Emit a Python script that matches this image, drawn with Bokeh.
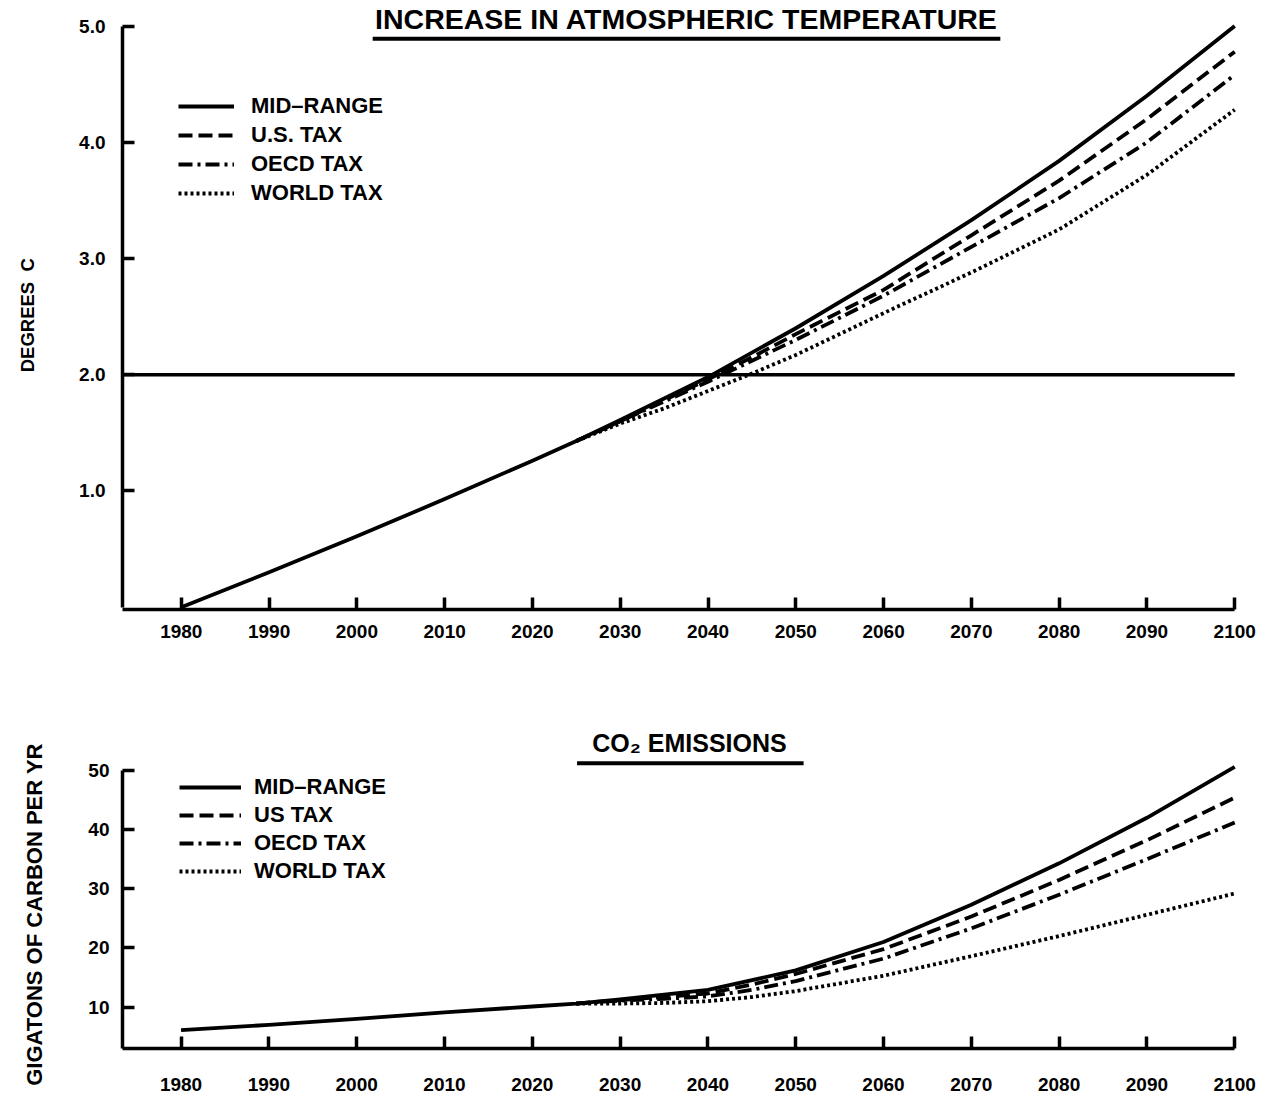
from bokeh.plotting import figure
from bokeh.models import Legend, LegendItem, Range1d, FixedTicker, Label
from bokeh.layouts import column
from bokeh.embed import file_html
from bokeh.resources import INLINE

# ---------------- data ----------------
years_mid = [1980, 1990, 2000, 2010, 2020, 2025, 2030, 2040, 2050, 2060, 2070, 2080, 2090, 2100]
years_tax = [2025, 2030, 2035, 2040, 2045, 2050, 2060, 2070, 2080, 2090, 2100]

temp_mid = [0.0, 0.30, 0.61, 0.93, 1.26, 1.43, 1.61, 1.98, 2.40, 2.85, 3.33, 3.84, 4.40, 5.00]
temp_us = [1.43, 1.60, 1.78, 1.96, 2.15, 2.35, 2.73, 3.20, 3.67, 4.20, 4.78]
temp_oecd = [1.43, 1.60, 1.77, 1.94, 2.12, 2.30, 2.68, 3.10, 3.52, 4.00, 4.58]
temp_world = [1.43, 1.58, 1.71, 1.86, 2.01, 2.17, 2.53, 2.88, 3.25, 3.72, 4.28]
temp_threshold = 2.0

co2_mid = [6.1, 7.0, 8.0, 9.1, 10.1, 10.6, 11.3, 12.9, 16.2, 21.0, 27.3, 34.3, 42.0, 50.6]
co2_us = [10.6, 11.2, 11.7, 12.3, 13.8, 15.6, 19.8, 25.3, 31.5, 38.2, 45.4]
co2_oecd = [10.6, 11.1, 11.4, 11.8, 12.9, 14.4, 18.2, 23.3, 29.0, 35.0, 41.2]
co2_world = [10.6, 10.6, 10.7, 11.0, 11.7, 12.7, 15.3, 18.6, 22.0, 25.6, 29.2]

x_ticks = [1980, 1990, 2000, 2010, 2020, 2030, 2040, 2050, 2060, 2070, 2080, 2090, 2100]
temp_ticks = [1, 2, 3, 4, 5]
temp_tick_labels = {1: "1.0", 2: "2.0", 3: "3.0", 4: "4.0", 5: "5.0"}
co2_ticks = [10, 20, 30, 40, 50]

labels_top = ["MID\u2013RANGE", "U.S. TAX", "OECD TAX", "WORLD TAX"]
labels_bot = ["MID\u2013RANGE", "US TAX", "OECD TAX", "WORLD TAX"]

title_top = "INCREASE IN ATMOSPHERIC TEMPERATURE"
title_bot = "CO\u2082 EMISSIONS"
ylabel_top = "DEGREES\u00a0\u00a0C" + "\u00a0" * 4
ylabel_bot = "GIGATONS OF CARBON PER YR" + "\u00a0" * 9

FONT = "Liberation Sans"
LW = 3.8
styles = [dict(line_dash="solid"), dict(line_dash="14 6"), dict(line_dash="14 5 3 5"), dict(line_dash="3 3")]


def base_fig(height, bl, br, bt, bb, xr, yr, ybounds, yticks, ylabel, ylabel_size, xstand, ystand, lstand):
    p = figure(width=1265, height=height, output_backend="svg", toolbar_location=None,
               x_range=Range1d(*xr), y_range=Range1d(*yr),
               min_border_left=bl, min_border_right=br, min_border_top=bt, min_border_bottom=bb)
    p.outline_line_color = None
    p.grid.visible = False
    p.background_fill_color = "white"
    p.border_fill_color = "white"
    for ax, ticks, stand in ((p.xaxis[0], x_ticks, xstand), (p.yaxis[0], yticks, ystand)):
        ax.ticker = FixedTicker(ticks=ticks)
        ax.axis_line_width = 3.5
        ax.axis_line_color = "black"
        ax.major_tick_in = 12
        ax.major_tick_out = 0
        ax.major_tick_line_width = 3.5
        ax.minor_tick_line_color = None
        ax.major_label_text_font = FONT
        ax.major_label_text_font_style = "bold"
        ax.major_label_text_font_size = "19px"
        ax.major_label_text_color = "black"
        ax.major_label_standoff = stand
    p.xaxis[0].bounds = (xr[0], x_ticks[-1])
    p.yaxis[0].bounds = ybounds
    p.yaxis[0].axis_label = ylabel
    p.yaxis[0].axis_label_text_font = FONT
    p.yaxis[0].axis_label_text_font_style = "bold"
    p.yaxis[0].axis_label_text_font_size = ylabel_size
    p.yaxis[0].axis_label_text_color = "black"
    p.yaxis[0].axis_label_standoff = lstand
    return p


def add_series(p, mid, us, oecd, world, labels, loc, glyph_w, spacing, standoff):
    rs = []
    for xs, ys, st in ((years_mid, mid, styles[0]), (years_tax, us, styles[1]),
                       (years_tax, oecd, styles[2]), (years_tax, world, styles[3])):
        rs.append(p.line(xs, ys, line_color="black", line_width=LW, line_join="round", **st))
    leg = Legend(items=[LegendItem(label=l, renderers=[r]) for l, r in zip(labels, rs)],
                 location=loc, orientation="vertical", padding=0, margin=0, spacing=spacing,
                 glyph_width=glyph_w, glyph_height=20, label_height=20, label_standoff=standoff,
                 label_text_font=FONT, label_text_font_style="bold", label_text_font_size="22px",
                 label_text_color="black", border_line_color=None, background_fill_alpha=0)
    p.add_layout(leg)
    return rs


# ---------------- top: temperature ----------------
p1 = base_fig(680, 122, 22, 0, 71, (1973.3, 2101), (-0.02, 5.22), (0, 5), temp_ticks,
              ylabel_top, "18.5px", 15, 17, 38)
p1.yaxis[0].major_label_overrides = temp_tick_labels
p1.segment(x0=[1973.3], y0=[temp_threshold], x1=[x_ticks[-1]], y1=[temp_threshold],
           line_color="black", line_width=3.5)
add_series(p1, temp_mid, temp_us, temp_oecd, temp_world, labels_top, (56, 403), 56, 3, 17)
p1.add_layout(Label(x=2037.55, y=5.06, text=title_top, text_align="center", text_baseline="middle",
                    text_font=FONT, text_font_style="bold", text_font_size="28.5px", text_color="black"))
p1.segment(x0=[2001.8], y0=[4.89], x1=[2073.3], y1=[4.89], line_color="black", line_width=4)

# ---------------- bottom: CO2 ----------------
p2 = base_fig(421, 118, 18, 45, 53, (1973.33, 2101), (3.0, 57.6), (3, 50), co2_ticks,
              ylabel_bot, "22px", 29, 13, 38)
add_series(p2, co2_mid, co2_us, co2_oecd, co2_world, labels_bot, (57, 164), 62, 2, 13)
p2.add_layout(Label(x=2037.9, y=54.7, text=title_bot, text_align="center", text_baseline="middle",
                    text_font=FONT, text_font_style="bold", text_font_size="25px", text_color="black"))
p2.segment(x0=[2025.1], y0=[51.2], x1=[2050.9], y1=[51.2], line_color="black", line_width=4)

layout = column(p1, p2, spacing=0)
open("out.html", "w").write(file_html(layout, INLINE))
